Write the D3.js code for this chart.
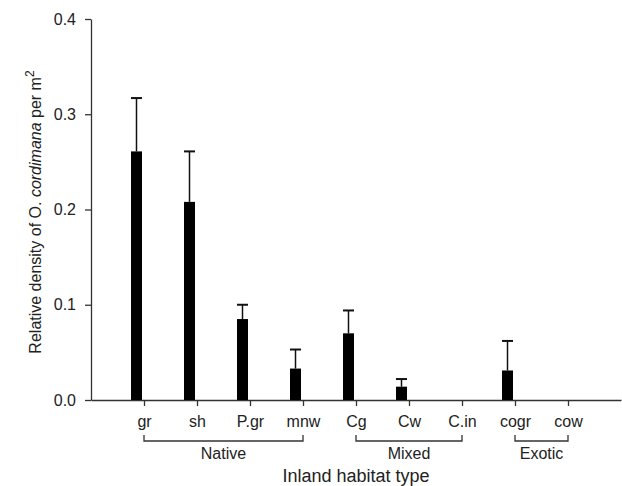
<!DOCTYPE html>
<html>
<head>
<meta charset="utf-8">
<script src="https://cdn.jsdelivr.net/npm/d3@7"></script>
<style>
  body { margin: 0; background: #fff; }
  svg text { font-family: "Liberation Sans", Arial, sans-serif; fill: #222; }
</style>
</head>
<body>
<svg id="chart"></svg>
<script>
// data
var categories = ["gr", "sh", "P.gr", "mnw", "Cg", "Cw", "C.in", "cogr", "cow"];
var density = [0.261, 0.208, 0.085, 0.033, 0.070, 0.014, 0, 0.031, 0];
var errUpper = [0.317, 0.261, 0.100, 0.053, 0.094, 0.022, 0, 0.062, 0];
var groupNames = ["Native", "Mixed", "Exotic"];
var groupFrom = ["gr", "Cg", "cogr"];
var groupTo = ["mnw", "C.in", "cow"];
var yTicks = [0, 0.1, 0.2, 0.3, 0.4];

var chartW = 622, chartH = 486;
var plotLeft = 91, plotRight = 621, plotTop = 19, plotBottom = 400;

var svg = d3.select("#chart")
    .attr("width", chartW)
    .attr("height", chartH);

var x = d3.scalePoint()
    .domain(categories)
    .range([plotLeft, plotRight])
    .padding(1);

var y = d3.scaleLinear()
    .domain([0, 0.4])
    .range([plotBottom, plotTop]);

var barW = 11;
var barOffset = -7.5; // bars sit a little left of their tick

// y axis
var yAxis = svg.append("g")
    .attr("transform", "translate(" + plotLeft + ",0)")
    .call(d3.axisLeft(y).tickValues(yTicks).tickFormat(d3.format(".1f"))
        .tickSize(6).tickSizeOuter(0).tickPadding(9));
yAxis.selectAll("text").style("font-size", "16px");

// x axis
var xAxis = svg.append("g")
    .attr("transform", "translate(0," + plotBottom + ")")
    .call(d3.axisBottom(x).tickSize(6).tickSizeOuter(0).tickPadding(10));
xAxis.selectAll("text").style("font-size", "16px");

svg.selectAll(".domain, .tick line").attr("stroke", "#333").attr("stroke-width", 1.3);

var data = categories.map(function (c, i) {
    return {cat: c, value: density[i], upper: errUpper[i]};
});

// error bars (drawn first, bars cover the lower part)
var err = svg.append("g").selectAll("g")
    .data(data.filter(function (d) { return d.value > 0; }))
    .enter().append("g");

err.append("line")
    .attr("x1", function (d) { return x(d.cat) + barOffset; })
    .attr("x2", function (d) { return x(d.cat) + barOffset; })
    .attr("y1", function (d) { return y(d.value); })
    .attr("y2", function (d) { return y(d.upper); })
    .attr("stroke", "#111").attr("stroke-width", 1.5);

err.append("line")
    .attr("x1", function (d) { return x(d.cat) + barOffset - barW / 2; })
    .attr("x2", function (d) { return x(d.cat) + barOffset + barW / 2; })
    .attr("y1", function (d) { return y(d.upper); })
    .attr("y2", function (d) { return y(d.upper); })
    .attr("stroke", "#111").attr("stroke-width", 2);

// bars
svg.append("g").selectAll("rect")
    .data(data.filter(function (d) { return d.value > 0; }))
    .enter().append("rect")
    .attr("x", function (d) { return x(d.cat) + barOffset - barW / 2; })
    .attr("y", function (d) { return y(d.value); })
    .attr("width", barW)
    .attr("height", function (d) { return y(0) - y(d.value); })
    .attr("fill", "#000");

// habitat group brackets
var bracketY = 441;
var groups = svg.append("g").selectAll("g")
    .data(groupNames.map(function (g, i) { return {name: g, from: groupFrom[i], to: groupTo[i]}; }))
    .enter().append("g");

groups.append("path")
    .attr("d", function (d) {
        var x1 = x(d.from), x2 = x(d.to);
        return "M" + x1 + "," + (bracketY - 6) + "V" + bracketY + "H" + x2 + "V" + (bracketY - 6);
    })
    .attr("fill", "none").attr("stroke", "#333").attr("stroke-width", 1.3);

groups.append("text")
    .attr("x", function (d) { return (x(d.from) + x(d.to)) / 2; })
    .attr("y", bracketY + 18)
    .attr("text-anchor", "middle")
    .style("font-size", "16px")
    .text(function (d) { return d.name; });

// axis titles
svg.append("text")
    .attr("x", (plotLeft + plotRight) / 2)
    .attr("y", 482)
    .attr("text-anchor", "middle")
    .style("font-size", "18px")
    .text("Inland habitat type");

var yTitle = svg.append("text")
    .attr("transform", "translate(41,212) rotate(-90)")
    .attr("text-anchor", "middle")
    .style("font-size", "16px");
yTitle.append("tspan").text("Relative density of O. ");
yTitle.append("tspan").style("font-style", "italic").text("cordimana");
yTitle.append("tspan").text(" per m");
yTitle.append("tspan").attr("dy", -7).style("font-size", "12px").text("2");
</script>
</body>
</html>
